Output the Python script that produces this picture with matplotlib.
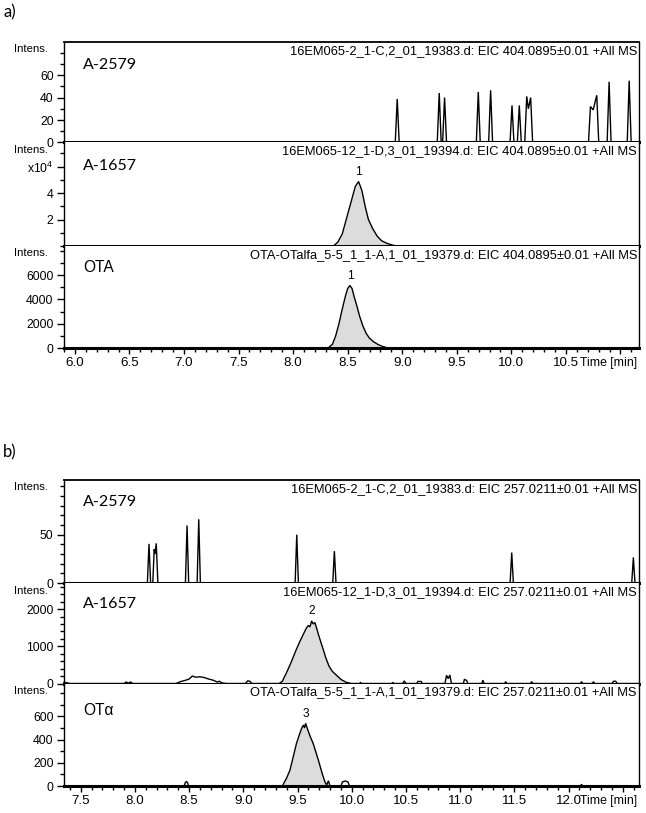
import matplotlib
matplotlib.use('Agg')
import matplotlib.pyplot as plt
from matplotlib.ticker import MultipleLocator, FixedLocator, FixedFormatter
import numpy as np

plt.rcParams['font.family'] = ['Liberation Sans', 'DejaVu Sans']
plt.rcParams['mathtext.fontset'] = 'custom'
plt.rcParams['mathtext.rm'] = 'Liberation Sans'

# ---------------- data: panel a (EIC 404.0895) ----------------
a_xlim = (5.90, 11.17)
a_xticks = [6.0, 6.5, 7.0, 7.5, 8.0, 8.5, 9.0, 9.5, 10.0, 10.5, 11.0]
a_xticklabels = ['6.0', '6.5', '7.0', '7.5', '8.0', '8.5', '9.0', '9.5', '10.0', '10.5', '']

a1_time = [5.90, 8.936, 8.954, 8.972, 9.321, 9.339, 9.357, 9.370, 9.388, 9.406,
           9.679, 9.697, 9.715, 9.792, 9.810, 9.828, 9.988, 10.006, 10.024,
           10.055, 10.073, 10.091, 10.123, 10.141, 10.156, 10.177, 10.195,
           10.707, 10.725, 10.750, 10.783, 10.801, 10.878, 10.896, 10.914,
           11.062, 11.080, 11.098, 11.17]
a1_int = [0, 0, 38.7, 0, 0, 44, 0, 0, 40, 0,
          0, 45, 0, 0, 46.5, 0, 0, 33, 0,
          0, 33, 0, 0, 41, 30, 40, 0,
          0, 32, 29, 42, 0, 0, 54, 0,
          0, 55, 0, 0]

a2_time = [5.90, 8.37, 8.41, 8.45, 8.48, 8.51, 8.54, 8.57, 8.60, 8.63, 8.66,
           8.69, 8.73, 8.77, 8.81, 8.86, 8.91, 8.95, 11.17]
a2_int = [0, 0, 0.3, 0.9, 1.8, 2.7, 3.6, 4.5, 4.87, 4.2, 3.0,
          2.0, 1.3, 0.75, 0.4, 0.2, 0.07, 0, 0]   # x10^4

a3_time = [5.90, 8.32, 8.36, 8.39, 8.42, 8.45, 8.48, 8.50, 8.52, 8.54, 8.56,
           8.58, 8.61, 8.64, 8.67, 8.70, 8.74, 8.78, 8.82, 8.87, 11.17]
a3_int = [0, 0, 300, 1000, 2000, 3200, 4300, 4900, 5150, 4900, 4200,
          3600, 2600, 1800, 1200, 800, 500, 280, 130, 0, 0]

# ---------------- data: panel b (EIC 257.0211) ----------------
b_xlim = (7.346, 12.65)
b_xticks = [7.5, 8.0, 8.5, 9.0, 9.5, 10.0, 10.5, 11.0, 11.5, 12.0, 12.5]
b_xticklabels = ['7.5', '8.0', '8.5', '9.0', '9.5', '10.0', '10.5', '11.0', '11.5', '12.0', '']

b1_time = [7.346, 8.115, 8.130, 8.145, 8.165, 8.178, 8.186, 8.197, 8.212,
           8.466, 8.481, 8.496, 8.574, 8.589, 8.604, 9.478, 9.493, 9.508,
           9.825, 9.840, 9.855, 11.461, 11.476, 11.491, 12.583, 12.598, 12.613, 12.65]
b1_int = [0, 0, 40.5, 0, 0, 35, 30, 41, 0,
          0, 59.5, 0, 0, 66, 0, 0, 50, 0,
          0, 33, 0, 0, 31.5, 0, 0, 26.5, 0, 0]

b2_time = [7.346, 7.37, 7.40, 7.90, 7.92, 7.94, 7.96, 7.98,
           8.38, 8.42, 8.46, 8.50, 8.53, 8.56, 8.60, 8.64, 8.68, 8.72, 8.76, 8.78, 8.80, 8.84,
           9.02, 9.04, 9.06, 9.08,
           9.33, 9.36, 9.40, 9.44, 9.48, 9.52, 9.55, 9.58, 9.60, 9.615, 9.63, 9.645,
           9.66, 9.68, 9.70, 9.73, 9.76, 9.79, 9.82, 9.86, 9.90, 9.95, 10.00,
           10.07, 10.08, 10.09, 10.37, 10.38, 10.39, 10.47, 10.485, 10.50,
           10.60, 10.61, 10.64, 10.65, 10.86, 10.875, 10.89, 10.905, 10.92,
           11.03, 11.04, 11.06, 11.07, 11.20, 11.21, 11.22, 11.41, 11.42, 11.43,
           11.65, 11.66, 11.67, 12.11, 12.12, 12.13, 12.22, 12.23, 12.24,
           12.40, 12.415, 12.435, 12.45, 12.65]
b2_int = [30, 20, 0, 0, 40, 10, 40, 0,
          0, 50, 80, 120, 200, 170, 180, 160, 120, 90, 40, 60, 20, 0,
          0, 70, 60, 0,
          0, 60, 300, 560, 850, 1120, 1300, 1480, 1560, 1520, 1680, 1600,
          1640, 1450, 1250, 980, 700, 470, 330, 220, 110, 30, 0,
          0, 25, 0, 0, 25, 0, 0, 70, 0,
          0, 55, 55, 0, 0, 220, 130, 230, 0,
          0, 115, 80, 0, 0, 90, 0, 0, 50, 0,
          0, 50, 0, 0, 50, 0, 0, 50, 0,
          0, 60, 60, 0, 0]

b3_time = [7.346, 8.455, 8.465, 8.475, 8.485, 8.495,
           9.36, 9.40, 9.43, 9.46, 9.49, 9.52, 9.54, 9.555, 9.565, 9.575, 9.585,
           9.60, 9.62, 9.645, 9.67, 9.69, 9.71, 9.73, 9.755, 9.77, 9.785, 9.80,
           9.90, 9.915, 9.94, 9.965, 9.98, 12.11, 12.12, 12.13, 12.65]
b3_int = [0, 0, 30, 38, 30, 0,
          0, 70, 135, 250, 365, 450, 500, 525, 500, 540, 510,
          470, 420, 365, 290, 230, 165, 100, 30, 10, 45, 0,
          0, 35, 43, 35, 0, 0, 15, 0, 0]

# text
panel_labels = ['a)', 'b)']
a_headers = ['16EM065-2_1-C,2_01_19383.d: EIC 404.0895\u00b10.01 +All MS',
             '16EM065-12_1-D,3_01_19394.d: EIC 404.0895\u00b10.01 +All MS',
             'OTA-OTalfa_5-5_1_1-A,1_01_19379.d: EIC 404.0895\u00b10.01 +All MS']
b_headers = ['16EM065-2_1-C,2_01_19383.d: EIC 257.0211\u00b10.01 +All MS',
             '16EM065-12_1-D,3_01_19394.d: EIC 257.0211\u00b10.01 +All MS',
             'OTA-OTalfa_5-5_1_1-A,1_01_19379.d: EIC 257.0211\u00b10.01 +All MS']
a_samples = ['A-2579', 'A-1657', 'OTA']
b_samples = ['A-2579', 'A-1657', 'OT\u03b1']
a_ylims = [89.4, 7.82, 8405]
b_ylims = [106.6, 2700, 883]
a_yticks = [[0, 20, 40, 60], [2, 4, 6], [0, 2000, 4000, 6000]]
a_yticklabels = [['0', '20', '40', '60'], ['2', '4', r'x10$^{4}$'], ['0', '2000', '4000', '6000']]
a_yminor = [10, 1, 1000]
b_yticks = [[0, 50], [0, 1000, 2000], [0, 200, 400, 600]]
b_yticklabels = [['0', '50'], ['0', '1000', '2000'], ['0', '200', '400', '600']]
b_yminor = [10, 200, 100]

# peaks: (time, intensity, label, fill range)
a2_peak = (8.60, 4.87, '1', (8.37, 8.95))
a3_peak = (8.52, 5150, '1', (8.32, 8.87))
b2_peak = (9.63, 1680, '2', (9.33, 10.00))
b3_peak = (9.575, 540, '3', (9.36, 9.77))

# ---------------- figure ----------------
W, H = 646, 813
fig = plt.figure(figsize=(W / 100, H / 100), dpi=100)
LEFT, RIGHT = 64, 639
PX = 0.72  # points per pixel at 100 dpi
fill_color = '#dcdcdc'


def add_ax(top_px, bot_px):
    return fig.add_axes([LEFT / W, 1 - bot_px / H, (RIGHT - LEFT) / W, (bot_px - top_px) / H])


def style_ax(ax, xlim, ylim_top, yt, ytl, yminor, first, last, xticks, xticklabels):
    ax.set_xlim(*xlim)
    ax.set_ylim(0, ylim_top)
    for s in ['left', 'right']:
        ax.spines[s].set_linewidth(1.0)
    ax.spines['bottom'].set_linewidth(2.2)
    ax.spines['top'].set_linewidth(1.3)
    ax.spines['top'].set_visible(first)
    ax.yaxis.set_major_locator(FixedLocator(yt))
    ax.yaxis.set_major_formatter(FixedFormatter(ytl))
    ax.yaxis.set_minor_locator(MultipleLocator(yminor))
    ax.tick_params(axis='y', which='major', direction='out', length=5, width=1.0,
                   labelsize=8.8, pad=2.5)
    ax.tick_params(axis='y', which='minor', direction='out', length=2.8, width=1.0)
    ax.tick_params(axis='y', right=False)
    if last:
        ax.xaxis.set_major_locator(FixedLocator(xticks))
        ax.xaxis.set_major_formatter(FixedFormatter(xticklabels))
        ax.xaxis.set_minor_locator(MultipleLocator(0.1))
        ax.tick_params(axis='x', which='major', direction='out', length=4.5, width=1.0,
                       labelsize=9.6, pad=2)
        ax.tick_params(axis='x', which='minor', direction='out', length=2.8, width=1.0)
        ax.annotate('Time [min]', xy=(1, 0), xycoords='axes fraction',
                    xytext=(-1.0, -10.5), textcoords='offset points',
                    ha='right', va='center', fontsize=8.8)
    else:
        ax.tick_params(axis='x', which='both', bottom=False, labelbottom=False)
    ax.tick_params(axis='both', top=False)


def decorate(ax, header, sample, sample_font, sample_dy):
    ax.annotate(header, xy=(1, 1), xycoords='axes fraction', xytext=(-2 * PX, -9 * PX),
                textcoords='offset points', ha='right', va='center', fontsize=9.3)
    ax.annotate(sample, xy=(0, 1), xycoords='axes fraction', xytext=(19 * PX, -sample_dy * PX),
                textcoords='offset points', ha='left', va='center', **sample_font)
    ax.annotate('Intens.', xy=(0, 1), xycoords='axes fraction', xytext=(-16 * PX, -7.5 * PX),
                textcoords='offset points', ha='right', va='center', fontsize=8.2)


def draw_trace(ax, t, y, peak=None):
    t = np.asarray(t)
    y = np.asarray(y, dtype=float)
    if peak is not None:
        px_, py_, lab, (f0, f1) = peak
        m = (t >= f0) & (t <= f1)
        ax.fill_between(t[m], 0, y[m], color=fill_color, lw=0, zorder=1)
        ax.annotate(lab, xy=(px_, py_), xytext=(0, 2.5), textcoords='offset points',
                    ha='center', va='bottom', fontsize=8.6)
    ax.plot(t, y, color='black', lw=1.0, zorder=3, clip_on=False, solid_joinstyle='miter')


calibri = dict(family=['Lato', 'DejaVu Sans'], fontsize=11.5)
arial = dict(family=['Liberation Sans', 'DejaVu Sans'], fontsize=11.2)

# panel a
a_bounds = [(42, 142.5), (142.5, 246), (246, 348)]
a_data = [(a1_time, a1_int, None), (a2_time, a2_int, a2_peak), (a3_time, a3_int, a3_peak)]
a_fonts = [calibri, calibri, arial]
a_dy = [23, 24, 22]
for i in range(3):
    ax = add_ax(*a_bounds[i])
    style_ax(ax, a_xlim, a_ylims[i], a_yticks[i], a_yticklabels[i], a_yminor[i],
             i == 0, i == 2, a_xticks, a_xticklabels)
    draw_trace(ax, *a_data[i])
    decorate(ax, a_headers[i], a_samples[i], a_fonts[i], a_dy[i])

# panel b
b_bounds = [(480, 583), (583, 683.5), (683.5, 786)]
b_data = [(b1_time, b1_int, None), (b2_time, b2_int, b2_peak), (b3_time, b3_int, b3_peak)]
b_fonts = [calibri, calibri, arial]
b_dy = [22, 21, 27]
for i in range(3):
    ax = add_ax(*b_bounds[i])
    style_ax(ax, b_xlim, b_ylims[i], b_yticks[i], b_yticklabels[i], b_yminor[i],
             i == 0, i == 2, b_xticks, b_xticklabels)
    draw_trace(ax, *b_data[i])
    decorate(ax, b_headers[i], b_samples[i], b_fonts[i], b_dy[i])

fig.text(3 / W, 1 - 12 / H, panel_labels[0], family=['Lato', 'DejaVu Sans'], fontsize=12,
         ha='left', va='center')
fig.text(3 / W, 1 - 452 / H, panel_labels[1], family=['Lato', 'DejaVu Sans'], fontsize=12,
         ha='left', va='center')

fig.savefig('out.png', dpi=100)
